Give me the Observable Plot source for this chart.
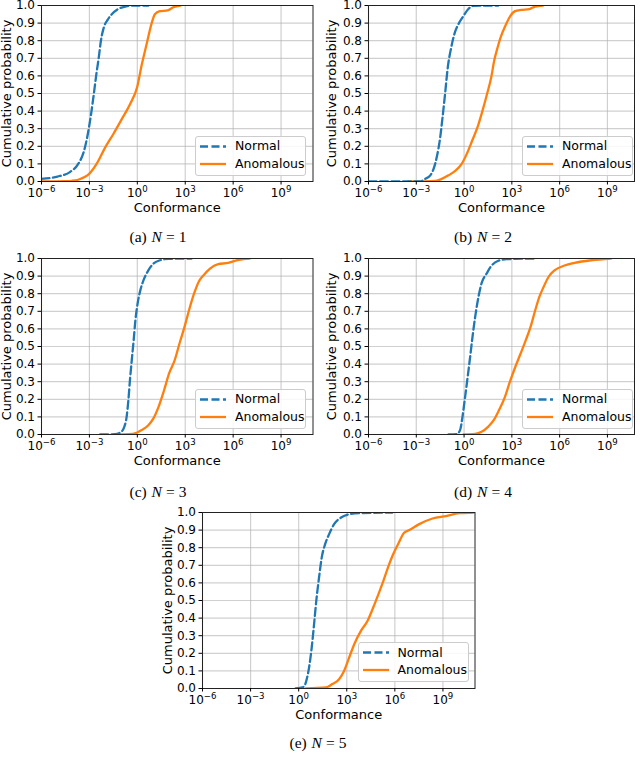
<!DOCTYPE html>
<html>
<head>
<meta charset="utf-8">
<script src="https://cdn.jsdelivr.net/npm/d3@7"></script>
<script src="https://cdn.jsdelivr.net/npm/@observablehq/plot@0.6"></script>
<style>
  body { margin: 0; background: #fff; }
  #root { position: relative; width: 640px; height: 767px; overflow: hidden; font-family: "DejaVu Sans", sans-serif; }
  .panel { position: absolute; }
  .panel svg { overflow: visible; }
  .legend { position: absolute; box-sizing: border-box; width: 111px; height: 40px; border: 1px solid #cccccc; border-radius: 3px; background: rgba(255,255,255,0.85); font-family: "DejaVu Sans", sans-serif; font-size: 12.5px; color: #000; }
  .legend svg { position: absolute; left: 0; top: 0; }
  .legend span { position: absolute; left: 39px; line-height: 14px; white-space: nowrap; }
  .caption { position: absolute; font-family: "Liberation Serif", "DejaVu Serif", serif; font-size: 15.5px; color: #000; transform: translate(-50%, -50%); white-space: nowrap; }
  .caption i { margin-left: 1px; }
  .caption .eq { margin: 0 4px; }
</style>
</head>
<body>
<div id="root"></div>
<script>
// ---- tick values / labels ----
const xTickExps = [-6, -3, 0, 3, 6, 9];
const xTickBase = "10";
const xTickExpLabels = ["−6", "−3", "0", "3", "6", "9"];
const yTicks = [0, 0.1, 0.2, 0.3, 0.4, 0.5, 0.6, 0.7, 0.8, 0.9, 1.0];
const seriesNames = ["Normal", "Anomalous"];
const seriesColors = ["#1f77b4", "#ff7f0e"];
const panelLetters = ["(a)", "(b)", "(c)", "(d)", "(e)"];
const panelN = [1, 2, 3, 4, 5];
const xLabel = "Conformance";
const yLabel = "Cumulative probability";

// ---- CDF data: [log10(conformance), cumulative probability] ----
const normalN1 = [[-6,0.015],[-5,0.028],[-4.2,0.055],[-3.7,0.10],[-3.35,0.17],[-3.1,0.27],[-2.9,0.38],[-2.72,0.50],[-2.55,0.62],[-2.42,0.70],[-2.28,0.80],[-2.1,0.875],[-1.85,0.92],[-1.6,0.95],[-1.2,0.98],[-0.7,0.995],[-0.3,1.0],[0.7,1.0]];
const anomalousN1 = [[-6,0],[-4.5,0.002],[-4.1,0.004],[-3.7,0.01],[-3.3,0.025],[-3.0,0.045],[-2.55,0.10],[-2.0,0.195],[-1.5,0.27],[-1.0,0.35],[-0.45,0.44],[0,0.54],[0.27,0.66],[0.58,0.78],[0.9,0.90],[1.1,0.95],[1.4,0.968],[1.9,0.972],[2.25,0.99],[2.7,1.0]];

const normalN2 = [[-6,0],[-2.75,0],[-2.44,0.015],[-2.12,0.035],[-1.92,0.07],[-1.71,0.14],[-1.5,0.25],[-1.35,0.365],[-1.19,0.50],[-1.02,0.65],[-0.81,0.76],[-0.6,0.84],[-0.35,0.895],[-0.04,0.94],[0.27,0.98],[0.58,0.998],[2.15,1.0]];
const anomalousN2 = [[-3.5,0],[-1.8,0.004],[-1.4,0.015],[-0.98,0.035],[-0.56,0.06],[-0.15,0.10],[0.17,0.157],[0.5,0.23],[0.85,0.31],[1.15,0.40],[1.45,0.50],[1.7,0.59],[1.9,0.69],[2.1,0.76],[2.3,0.82],[2.6,0.886],[2.9,0.94],[3.2,0.968],[3.6,0.975],[4.1,0.98],[4.45,0.994],[4.96,1.0]];

const normalN3 = [[-2.33,0],[-1.4,0.002],[-1.08,0.01],[-0.81,0.045],[-0.67,0.10],[-0.56,0.195],[-0.46,0.31],[-0.35,0.42],[-0.23,0.535],[-0.12,0.65],[0.02,0.745],[0.19,0.82],[0.39,0.877],[0.7,0.934],[1.0,0.97],[1.42,0.99],[1.94,0.998],[3.4,1.0]];
const anomalousN3 = [[-1.4,0],[-0.56,0.002],[-0.04,0.01],[0.27,0.025],[0.69,0.053],[1.0,0.09],[1.33,0.157],[1.67,0.25],[2.0,0.35],[2.33,0.42],[2.65,0.52],[2.95,0.61],[3.25,0.71],[3.55,0.80],[3.84,0.867],[4.15,0.905],[4.55,0.943],[5.06,0.968],[5.69,0.975],[6.21,0.99],[7.04,1.0]];

const normalN4 = [[-0.98,0],[-0.46,0.002],[-0.25,0.025],[-0.1,0.10],[0.06,0.21],[0.23,0.33],[0.38,0.44],[0.53,0.555],[0.7,0.67],[0.9,0.78],[1.1,0.86],[1.42,0.915],[1.73,0.96],[2.15,0.987],[2.67,0.996],[4.44,1.0]];
const anomalousN4 = [[-0.04,0],[0.69,0.003],[1.1,0.015],[1.52,0.045],[1.85,0.08],[2.2,0.14],[2.55,0.21],[2.88,0.30],[3.22,0.385],[3.55,0.46],[3.87,0.535],[4.17,0.61],[4.45,0.70],[4.72,0.78],[5.0,0.84],[5.3,0.895],[5.7,0.934],[6.31,0.96],[6.94,0.975],[7.98,0.99],[9.23,1.0]];

const normalN5 = [[-0.19,0],[0.33,0.01],[0.48,0.045],[0.65,0.12],[0.81,0.23],[0.96,0.365],[1.1,0.50],[1.27,0.63],[1.44,0.745],[1.65,0.82],[1.9,0.877],[2.21,0.934],[2.62,0.97],[3.15,0.99],[3.77,0.996],[5.85,1.0]];
const anomalousN5 = [[0.44,0],[1.69,0.006],[2.1,0.025],[2.52,0.053],[2.83,0.10],[3.15,0.176],[3.46,0.25],[3.9,0.33],[4.3,0.385],[4.65,0.46],[4.97,0.535],[5.28,0.61],[5.58,0.69],[5.88,0.76],[6.2,0.82],[6.58,0.885],[6.9,0.90],[7.52,0.934],[8.35,0.966],[9.19,0.98],[10.02,0.996],[10.96,1.0]];

const normalSeries = [normalN1, normalN2, normalN3, normalN4, normalN5];
const anomalousSeries = [anomalousN1, anomalousN2, anomalousN3, anomalousN4, anomalousN5];
const xMaxExps = [11, 10.7, 11, 10.7, 11];

// ---- layout (pixels) ----
const layout = [
  {left: 0,   top: 0,   mLeft: 41, mRight: 7.5, yOff: 40, legend: [195, 135.5], caption: [158, 237]},
  {left: 320, top: 0,   mLeft: 48, mRight: 6,   yOff: 42, legend: [522, 135.5], caption: [483, 237]},
  {left: 0,   top: 253, mLeft: 41, mRight: 7.5, yOff: 40, legend: [195, 388.5], caption: [158, 492]},
  {left: 320, top: 253, mLeft: 48, mRight: 6,   yOff: 42, legend: [522, 388.5], caption: [483, 492]},
  {left: 160, top: 507, mLeft: 42, mRight: 5.5, yOff: 40, legend: [357.5, 642], caption: [318, 743]}
];

const root = document.getElementById("root");
const xTicks = xTickExps.map(e => 10 ** e);
const fmtX = v => xTickBase + "^" + xTickExpLabels[xTicks.indexOf(v)];

layout.forEach((L, i) => {
  const gridStyle = {stroke: "#b0b0b0", strokeOpacity: 0.6, strokeWidth: 1.2};
  const plot = Plot.plot({
    width: 320,
    height: 218,
    marginLeft: L.mLeft,
    marginRight: L.mRight,
    marginTop: 5,
    marginBottom: 37,
    style: {fontFamily: "DejaVu Sans, sans-serif", fontSize: "12px", color: "#000", background: "transparent"},
    x: {type: "log", domain: [10 ** -6, 10 ** xMaxExps[i]]},
    y: {domain: [0, 1]},
    marks: [
      Plot.gridX(xTicks, gridStyle),
      Plot.gridY(yTicks, gridStyle),
      Plot.line(anomalousSeries[i], {x: d => 10 ** d[0], y: d => d[1], stroke: seriesColors[1], strokeWidth: 2.3, curve: "monotone-x", clip: true}),
      Plot.line(normalSeries[i], {x: d => 10 ** d[0], y: d => d[1], stroke: seriesColors[0], strokeWidth: 2.3, strokeDasharray: "8,3.5", curve: "monotone-x", clip: true}),
      Plot.frame({stroke: "#222", strokeWidth: 1}),
      Plot.axisX(xTicks, {tickFormat: fmtX, tickSize: 3.5, tickPadding: 3, label: xLabel, labelAnchor: "center", labelArrow: "none", labelOffset: 30}),
      Plot.axisY(yTicks, {tickFormat: ".1f", tickSize: 3.5, tickPadding: 3, label: yLabel, labelAnchor: "center", labelArrow: "none", labelOffset: L.yOff})
    ]
  });

  // axis labels slightly larger than tick labels
  d3.select(plot).selectAll('g[aria-label="x-axis label"], g[aria-label="y-axis label"]').attr("font-size", 13);
  // superscript exponents on x tick labels ("10^−6" -> 10 with raised exponent)
  d3.select(plot).selectAll('g[aria-label="x-axis tick label"] text').each(function () {
    const t = d3.select(this);
    const s = t.text();
    if (!s.includes("^")) return;
    const [base, exp] = s.split("^");
    t.text(base);
    t.append("tspan").attr("dy", "-5").attr("font-size", "8.6px").text(exp);
  });

  const wrap = document.createElement("div");
  wrap.className = "panel";
  wrap.style.left = L.left + "px";
  wrap.style.top = L.top + "px";
  wrap.appendChild(plot);
  root.appendChild(wrap);

  // legend
  const lg = document.createElement("div");
  lg.className = "legend";
  lg.style.left = L.legend[0] + "px";
  lg.style.top = L.legend[1] + "px";
  lg.innerHTML =
    `<svg width="109" height="38">
       <line x1="4" x2="30" y1="9.5" y2="9.5" stroke="${seriesColors[0]}" stroke-width="2.3" stroke-dasharray="8,3.5"/>
       <line x1="4" x2="30" y1="27" y2="27" stroke="${seriesColors[1]}" stroke-width="2.3"/>
     </svg>
     <span style="top:2.5px">${seriesNames[0]}</span>
     <span style="top:20px">${seriesNames[1]}</span>`;
  root.appendChild(lg);

  // caption
  const cap = document.createElement("div");
  cap.className = "caption";
  cap.style.left = L.caption[0] + "px";
  cap.style.top = L.caption[1] + "px";
  cap.innerHTML = `${panelLetters[i]} <i>N</i><span class="eq">=</span>${panelN[i]}`;
  root.appendChild(cap);
});
</script>
</body>
</html>
